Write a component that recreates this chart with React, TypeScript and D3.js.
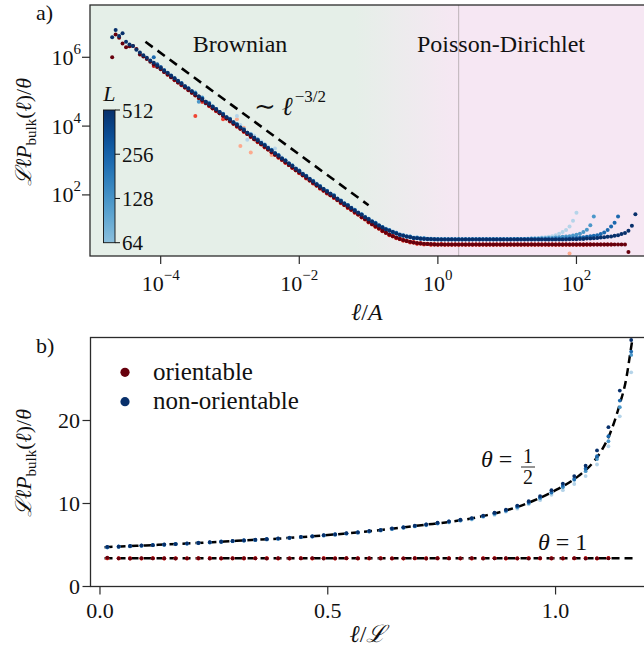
import React from 'react';
import * as d3 from 'd3';

const SERIF = "'Liberation Serif', 'DejaVu Serif', serif";

// ---------- Panel a: log-binned ℓ/A grid (log10 values) ----------
const LOG_X_GRID = [
  -4.70,-4.65,-4.60,-4.55,-4.50,-4.45,-4.40,-4.35,-4.30,-4.25,
  -4.20,-4.15,-4.10,-4.05,-4.00,-3.95,-3.90,-3.85,-3.80,-3.75,
  -3.70,-3.65,-3.60,-3.55,-3.50,-3.45,-3.40,-3.35,-3.30,-3.25,
  -3.20,-3.15,-3.10,-3.05,-3.00,-2.95,-2.90,-2.85,-2.80,-2.75,
  -2.70,-2.65,-2.60,-2.55,-2.50,-2.45,-2.40,-2.35,-2.30,-2.25,
  -2.20,-2.15,-2.10,-2.05,-2.00,-1.95,-1.90,-1.85,-1.80,-1.75,
  -1.70,-1.65,-1.60,-1.55,-1.50,-1.45,-1.40,-1.35,-1.30,-1.25,
  -1.20,-1.15,-1.10,-1.05,-1.00,-0.95,-0.90,-0.85,-0.80,-0.75,
  -0.70,-0.65,-0.60,-0.55,-0.50,-0.45,-0.40,-0.35,-0.30,-0.25,
  -0.20,-0.15,-0.10,-0.05,0.00,0.05,0.10,0.15,0.20,0.25,
  0.30,0.35,0.40,0.45,0.50,0.55,0.60,0.65,0.70,0.75,
  0.80,0.85,0.90,0.95,1.00,1.05,1.10,1.15,1.20,1.25,
  1.30,1.35,1.40,1.45,1.50,1.55,1.60,1.65,1.70,1.75,
  1.80,1.85,1.90,1.95,2.00,2.05,2.10,2.15,2.20,2.25,
  2.30,2.35,2.40,2.45,2.50,2.55,2.60,2.65,2.70,2.75,
  2.80,2.85,
];

const L_VALUES = [64, 128, 256, 512];

// log10(ℒℓP/θ), orientable, first bin = start
const A_RED_64_START = -2.90;
const A_RED_64 = [
  4.20,3.42,3.95,3.78,
  3.23,3.62,3.54,3.46,3.40,3.32,3.16,3.17,3.09,3.01,
  2.94,2.86,2.79,2.71,2.64,2.56,2.49,2.41,2.34,2.26,
  2.19,2.12,2.05,1.98,1.92,1.84,1.77,1.70,1.63,1.56,
  1.49,1.42,1.35,1.28,1.21,1.14,1.08,1.01,0.95,0.89,
  0.84,0.79,0.75,0.71,0.68,0.65,0.63,0.61,0.59,0.58,
  0.57,0.57,0.56,0.56,0.56,0.56,0.56,0.56,0.56,0.56,
  0.56,0.56,0.56,0.56,0.56,0.56,0.56,0.56,0.56,0.56,
  0.56,0.56,0.56,0.56,0.56,0.56,0.56,0.56,0.56,0.56,
  0.56,0.56,0.56,0.56,0.56,0.56,0.56,0.56,0.56,0.56,
  0.56,0.56,0.30,
];
const A_RED_128_START = -3.50;
const A_RED_128 = [
  4.29,4.86,4.70,4.69,4.58,4.51,
  4.43,4.38,4.20,4.23,4.13,4.08,3.98,3.93,3.83,3.78,
  3.68,3.63,3.53,3.48,3.38,3.33,3.23,3.18,3.08,3.03,
  2.93,2.88,2.78,2.73,2.63,2.58,2.48,2.43,2.33,2.28,
  2.18,2.14,2.04,2.00,1.91,1.86,1.76,1.72,1.62,1.58,
  1.48,1.44,1.34,1.30,1.20,1.16,1.07,1.03,0.94,0.91,
  0.83,0.81,0.74,0.73,0.67,0.67,0.62,0.63,0.58,0.60,
  0.56,0.58,0.55,0.57,0.55,0.57,0.55,0.56,0.55,0.56,
  0.55,0.56,0.55,0.56,0.55,0.56,0.55,0.56,0.55,0.56,
  0.55,0.56,0.55,0.56,0.55,0.56,0.55,0.56,0.55,0.56,
  0.55,0.56,0.55,0.56,0.55,0.56,0.55,0.56,0.55,0.56,
  0.55,0.56,0.55,0.56,0.55,0.56,0.55,0.56,0.56,
];
const A_RED_256_START = -4.10;
const A_RED_256 = [
  5.75,5.78,5.70,5.57,5.49,5.42,5.33,5.27,
  5.19,5.12,5.04,4.97,4.89,4.82,4.74,4.67,4.59,4.52,
  4.44,4.37,4.29,4.22,4.14,4.07,3.99,3.92,3.84,3.77,
  3.69,3.62,3.54,3.47,3.39,3.32,3.24,3.17,3.09,3.02,
  2.94,2.87,2.79,2.72,2.64,2.57,2.49,2.42,2.34,2.27,
  2.19,2.12,2.05,1.99,1.92,1.85,1.77,1.71,1.63,1.57,
  1.49,1.43,1.35,1.29,1.21,1.15,1.08,1.02,0.95,0.90,
  0.84,0.80,0.75,0.72,0.68,0.66,0.63,0.62,0.59,0.59,
  0.57,0.57,0.56,0.56,0.56,0.56,0.56,0.56,0.56,0.56,
  0.56,0.56,0.56,0.56,0.56,0.56,0.56,0.56,0.56,0.56,
  0.56,0.56,0.56,0.56,0.56,0.56,0.56,0.56,0.56,0.56,
  0.56,0.56,0.56,0.56,0.56,0.56,0.56,0.56,0.56,0.56,
  0.56,0.56,0.56,0.56,0.56,0.56,0.56,0.56,0.56,0.56,
  0.56,0.56,0.56,0.56,0.56,
];
const A_RED_512_START = -4.70;
const A_RED_512 = [
  6.00,6.66,6.57,6.40,6.29,6.32,6.33,6.24,6.08,6.02,
  5.95,5.87,5.80,5.72,5.65,5.57,5.50,5.42,5.35,5.27,
  5.20,5.12,5.05,4.97,4.90,4.82,4.75,4.67,4.60,4.52,
  4.45,4.37,4.30,4.22,4.15,4.07,4.00,3.92,3.85,3.77,
  3.70,3.62,3.55,3.47,3.40,3.32,3.25,3.17,3.10,3.02,
  2.95,2.87,2.80,2.72,2.65,2.57,2.50,2.42,2.35,2.27,
  2.20,2.13,2.06,1.99,1.93,1.85,1.78,1.71,1.64,1.57,
  1.50,1.43,1.36,1.29,1.22,1.15,1.09,1.02,0.96,0.90,
  0.85,0.80,0.76,0.72,0.69,0.66,0.64,0.62,0.60,0.59,
  0.58,0.57,0.57,0.56,0.56,0.56,0.56,0.56,0.56,0.56,
  0.56,0.56,0.56,0.56,0.56,0.56,0.56,0.56,0.56,0.56,
  0.56,0.56,0.56,0.56,0.56,0.56,0.56,0.56,0.56,0.56,
  0.56,0.56,0.56,0.56,0.56,0.56,0.56,0.56,0.56,0.56,
  0.56,0.56,0.56,0.56,0.56,0.56,0.56,0.56,0.56,0.56,
  0.56,0.56,0.56,0.56,0.56,0.56,0.56,0.56,0.56,0.34,
];

// non-orientable
const A_BLUE_64_START = -2.90;
const A_BLUE_64 = [
  4.29,4.03,3.84,3.60,
  3.78,3.72,3.62,3.55,3.48,3.40,3.31,3.35,3.17,3.09,
  3.00,2.93,2.85,2.78,2.70,2.63,2.55,2.48,2.40,2.33,
  2.25,2.18,2.11,2.05,1.98,1.91,1.84,1.77,1.71,1.64,
  1.57,1.50,1.44,1.37,1.31,1.25,1.19,1.13,1.07,1.02,
  0.98,0.94,0.90,0.86,0.83,0.81,0.79,0.77,0.76,0.75,
  0.74,0.73,0.73,0.72,0.72,0.72,0.72,0.72,0.72,0.72,
  0.72,0.72,0.72,0.72,0.72,0.72,0.72,0.72,0.72,0.72,
  0.72,0.72,0.72,0.72,0.72,0.72,0.72,0.72,0.72,0.72,
  0.73,0.73,0.74,0.75,0.76,0.77,0.78,0.80,0.83,0.87,
  0.92,0.98,1.08,1.25,1.48,
];
const A_BLUE_128_START = -3.50;
const A_BLUE_128 = [
  4.98,4.71,4.83,4.66,4.68,4.58,
  4.50,4.40,4.36,4.25,4.21,4.10,4.06,3.95,3.91,3.80,
  3.76,3.65,3.61,3.50,3.46,3.35,3.31,3.20,3.16,3.05,
  3.01,2.90,2.86,2.75,2.71,2.60,2.56,2.45,2.41,2.30,
  2.26,2.16,2.12,2.02,1.99,1.88,1.84,1.74,1.71,1.61,
  1.57,1.47,1.44,1.34,1.31,1.22,1.19,1.10,1.07,0.99,
  0.98,0.91,0.90,0.83,0.83,0.78,0.79,0.74,0.76,0.72,
  0.74,0.71,0.72,0.70,0.72,0.70,0.71,0.70,0.71,0.70,
  0.71,0.70,0.71,0.70,0.71,0.71,0.71,0.71,0.71,0.71,
  0.71,0.71,0.71,0.71,0.71,0.71,0.72,0.72,0.72,0.72,
  0.72,0.73,0.73,0.73,0.74,0.74,0.75,0.75,0.76,0.77,
  0.78,0.79,0.80,0.82,0.84,0.87,0.92,0.99,1.12,1.37,
];
const A_BLUE_256_START = -4.10;
const A_BLUE_256 = [
  6.00,5.80,5.72,5.63,5.55,5.47,5.39,5.32,
  5.25,5.16,5.10,5.01,4.95,4.86,4.80,4.71,4.65,4.56,
  4.50,4.41,4.35,4.26,4.20,4.11,4.05,3.96,3.90,3.81,
  3.75,3.66,3.60,3.51,3.45,3.36,3.30,3.21,3.15,3.06,
  3.00,2.91,2.85,2.76,2.70,2.61,2.55,2.46,2.40,2.31,
  2.25,2.17,2.11,2.03,1.98,1.89,1.83,1.75,1.70,1.62,
  1.56,1.48,1.43,1.35,1.30,1.23,1.18,1.11,1.06,1.00,
  0.97,0.92,0.89,0.84,0.82,0.79,0.78,0.75,0.75,0.73,
  0.73,0.72,0.72,0.71,0.71,0.71,0.71,0.71,0.71,0.71,
  0.71,0.71,0.71,0.71,0.71,0.71,0.71,0.71,0.71,0.71,
  0.71,0.71,0.71,0.71,0.71,0.71,0.71,0.71,0.71,0.71,
  0.71,0.71,0.71,0.71,0.71,0.71,0.71,0.71,0.72,0.72,
  0.72,0.73,0.73,0.74,0.75,0.76,0.77,0.78,0.80,0.81,
  0.83,0.86,0.91,0.98,1.08,1.19,1.37,
];
const A_BLUE_512_START = -4.70;
const A_BLUE_512 = [
  6.58,6.79,6.62,6.70,6.45,6.37,6.33,6.22,6.14,6.06,
  5.99,5.91,5.84,5.76,5.69,5.61,5.54,5.46,5.39,5.31,
  5.24,5.16,5.09,5.01,4.94,4.86,4.79,4.71,4.64,4.56,
  4.49,4.41,4.34,4.26,4.19,4.11,4.04,3.96,3.89,3.81,
  3.74,3.66,3.59,3.51,3.44,3.36,3.29,3.21,3.14,3.06,
  2.99,2.91,2.84,2.76,2.69,2.61,2.54,2.46,2.39,2.31,
  2.24,2.17,2.10,2.03,1.97,1.89,1.82,1.75,1.69,1.62,
  1.55,1.48,1.42,1.35,1.29,1.23,1.17,1.11,1.05,1.00,
  0.96,0.92,0.88,0.84,0.81,0.79,0.77,0.75,0.74,0.73,
  0.72,0.72,0.71,0.71,0.70,0.70,0.70,0.70,0.70,0.70,
  0.70,0.70,0.70,0.70,0.70,0.70,0.70,0.70,0.70,0.70,
  0.70,0.70,0.70,0.70,0.70,0.70,0.70,0.70,0.70,0.70,
  0.70,0.70,0.70,0.70,0.70,0.70,0.70,0.70,0.70,0.70,
  0.70,0.70,0.71,0.71,0.71,0.72,0.72,0.73,0.73,0.74,
  0.75,0.76,0.77,0.78,0.79,0.81,0.83,0.86,0.89,0.96,
  1.10,1.44,
];

// ℓ^{-3/2} guide (log10 x, log10 y)
const A_GUIDE_LOGX = [-4.22, -1.00];
const A_GUIDE_LOGY = [6.45, 1.70];

// ---------- Panel b ----------
const B_X = [
  0.016,0.041,0.066,0.091,0.116,0.141,0.166,0.191,0.216,0.241,
  0.266,0.291,0.316,0.341,0.366,0.391,0.416,0.441,0.466,0.491,
  0.516,0.541,0.566,0.591,0.616,0.641,0.666,0.691,0.716,0.741,
  0.766,0.791,0.816,0.841,0.866,0.891,0.916,0.941,0.966,0.991,
  1.016,1.041,1.066,1.091,1.116,1.141,1.166,
];
const B_BLUE_512 = [4.78,4.80,4.88,4.95,4.98,5.07,5.11,5.20,5.24,5.35,5.39,5.49,5.55,5.64,5.70,5.80,5.86,5.98,6.05,6.19,6.27,6.43,6.53,6.69,6.80,7.01,7.13,7.33,7.47,7.69,7.84,8.05,8.24,8.55,8.90,9.26,9.75,10.27,10.90,11.60,12.40,13.30,14.55,16.40,19.20,23.60,29.70];
const B_BLUE_256 = [4.73,4.83,4.85,4.93,5.01,5.03,5.14,5.17,5.27,5.31,5.42,5.46,5.57,5.61,5.72,5.76,5.88,5.95,6.08,6.15,6.30,6.39,6.55,6.64,6.82,6.96,7.15,7.28,7.48,7.63,7.83,7.98,8.21,8.47,8.84,9.15,9.65,10.10,10.75,11.35,12.15,12.95,14.20,15.70,18.10,22.40,28.30];
const B_BLUE_128 = [4.72,4.79,4.86,4.91,4.98,5.04,5.10,5.17,5.23,5.31,5.37,5.46,5.52,5.61,5.67,5.76,5.83,5.95,6.02,6.15,6.24,6.38,6.49,6.63,6.76,6.95,7.08,7.27,7.41,7.62,7.76,7.97,8.14,8.45,8.75,9.14,9.55,10.08,10.62,11.30,11.95,12.85,13.90,15.35,17.50,21.60,27.90];
const B_BLUE_64 = [4.70,4.77,4.84,4.89,4.96,5.02,5.08,5.15,5.21,5.28,5.35,5.43,5.50,5.58,5.64,5.73,5.80,5.92,5.99,6.12,6.20,6.35,6.45,6.59,6.72,6.90,7.04,7.22,7.36,7.56,7.70,7.90,8.06,8.36,8.62,9.02,9.38,9.90,10.40,11.05,11.60,12.35,13.30,14.70,16.90,20.50,25.80];
const B_RED_512 = [3.49,3.40,3.37,3.42,3.38,3.41,3.36,3.40,3.43,3.37,3.40,3.38,3.42,3.39,3.36,3.41,3.40,3.38,3.43,3.37,3.40,3.41,3.38,3.42,3.36,3.40,3.39,3.43,3.37,3.41,3.38,3.40,3.42,3.37,3.39,3.41,3.40,3.36,3.42,3.38,3.40,3.41,3.37,3.40,3.39];
const B_RED_256 = [3.42,3.38,3.41,3.36,3.40,3.37,3.42,3.39,3.36,3.41,3.38,3.42,3.37,3.40,3.43,3.38,3.36,3.41,3.39,3.42,3.37,3.39,3.41,3.38,3.43,3.37,3.40,3.38,3.42,3.36,3.41,3.39,3.37,3.42,3.40,3.38,3.36,3.41,3.39,3.42,3.37,3.40,3.43,3.38,3.41];
const B_RED_128 = [3.38,3.42,3.36,3.40,3.43,3.38,3.40,3.36,3.41,3.43,3.37,3.40,3.39,3.42,3.38,3.36,3.42,3.40,3.37,3.41,3.43,3.38,3.36,3.40,3.42,3.39,3.37,3.41,3.38,3.43,3.40,3.36,3.41,3.39,3.42,3.37,3.40,3.43,3.38,3.36,3.41,3.39,3.42,3.40,3.44];
const B_RED_64 = [3.40,3.36,3.43,3.38,3.41,3.39,3.37,3.42,3.40,3.38,3.43,3.36,3.41,3.38,3.42,3.40,3.37,3.43,3.38,3.40,3.36,3.42,3.40,3.37,3.41,3.43,3.38,3.40,3.36,3.42,3.39,3.41,3.37,3.40,3.43,3.38,3.41,3.39,3.36,3.42,3.40,3.38,3.41,3.37,3.45];

// theory curves
const THETA1_X = [0.01, 1.17];
const THETA1_Y = [3.40, 3.40];
const THETA_HALF_X = [0.01,0.1,0.2,0.3,0.4,0.5,0.6,0.7,0.8,0.85,0.9,0.95,1.0,1.05,1.08,1.10,1.12,1.14,1.155,1.165,1.172];
const THETA_HALF_Y = [4.74,4.95,5.2,5.5,5.8,6.2,6.7,7.35,8.05,8.6,9.3,10.3,11.6,13.3,14.8,16.3,18.5,21.8,25.0,28.5,31.0];

const A_X_TICKS = [-4, -2, 0, 2];
const A_Y_TICKS = [2, 4, 6];
const B_X_TICKS = [0, 0.5, 1.0];
const B_Y_TICKS = [0, 10, 20];

const tBlue = (L: number) => [0.3, 0.6, 0.78, 1.0][L_VALUES.indexOf(L)];
const blueOf = (L: number) => d3.interpolateBlues(tBlue(L));
const redOf = (L: number) => d3.interpolateReds(tBlue(L));

const sup = (n: number) => (n < 0 ? '\u2212' + Math.abs(n) : String(n));

export default function App() {
  const W = 644, H = 660;
  // panel a
  const aL = 90, aR = 645, aT = 5, aB = 256;
  const xA = d3.scaleLog().domain([Math.pow(10, -5.02), Math.pow(10, 2.989)]).range([aL, aR]);
  const yA = d3.scaleLog().domain([Math.pow(10, 0.224), Math.pow(10, 7.52)]).range([aB, aT]);
  // panel b
  const bL = 90.5, bR = 645, bT = 337.5, bB = 586.5;
  const xB = d3.scaleLinear().domain([-0.0208, 1.1963]).range([bL, bR]);
  const yB = d3.scaleLinear().domain([0, 30]).range([bB, bT]);

  const gridIdx = (s: number) => LOG_X_GRID.findIndex((v) => Math.abs(v - s) < 1e-6);
  const mk = (start: number, vals: number[], color: string) => {
    const i0 = gridIdx(start);
    return vals.map((v, i) => ({ x: xA(Math.pow(10, LOG_X_GRID[i0 + i])), y: yA(Math.pow(10, v)), color }));
  };
  const aSeries = [
    mk(A_RED_64_START, A_RED_64, redOf(64)),
    mk(A_BLUE_64_START, A_BLUE_64, blueOf(64)),
    mk(A_RED_128_START, A_RED_128, redOf(128)),
    mk(A_BLUE_128_START, A_BLUE_128, blueOf(128)),
    mk(A_RED_256_START, A_RED_256, redOf(256)),
    mk(A_BLUE_256_START, A_BLUE_256, blueOf(256)),
    mk(A_RED_512_START, A_RED_512, redOf(512)),
    mk(A_BLUE_512_START, A_BLUE_512, blueOf(512)),
  ];

  const bRed: Record<number, number[]> = { 64: B_RED_64, 128: B_RED_128, 256: B_RED_256, 512: B_RED_512 };
  const bBlue: Record<number, number[]> = { 64: B_BLUE_64, 128: B_BLUE_128, 256: B_BLUE_256, 512: B_BLUE_512 };
  const bSeries: { x: number; y: number; color: string }[][] = [];
  L_VALUES.forEach((L) => {
    bSeries.push(bRed[L].map((v, i) => ({ x: xB(B_X[i]), y: yB(v), color: redOf(L) })));
    bSeries.push(bBlue[L].map((v, i) => ({ x: xB(B_X[i]), y: yB(v), color: blueOf(L) })));
  });

  const guideA = d3.line<number>()
    .x((_, i) => xA(Math.pow(10, A_GUIDE_LOGX[i])))
    .y((v) => yA(Math.pow(10, v)))(A_GUIDE_LOGY) || '';
  const lineB = (xs: number[], ys: number[]) =>
    d3.line<number>().x((_, i) => xB(xs[i])).y((v) => yB(v)).curve(d3.curveMonotoneX)(ys) || '';

  const spine = '#2b2b2b';
  const cbX = 103.5, cbW = 11.5, cbT = 110, cbB = 242.7;
  const yCb = d3.scaleLog().base(2).domain([64, 512]).range([cbB, cbT]);

  const greenStop = xA(Math.pow(10, -1.2));
  const pinkStop = xA(Math.pow(10, 0.3));

  const yLabel = (
    <>
      <tspan fontStyle="italic">ℒℓP</tspan><tspan fontSize={15} dy={5}>bulk</tspan>
      <tspan dy={-5}>(</tspan><tspan fontStyle="italic">ℓ</tspan><tspan>)/</tspan><tspan fontStyle="italic">θ</tspan>
    </>
  );

  return (
    <svg width={W} height={H} style={{ position: 'absolute', left: 0, top: 0, background: '#fff', fontFamily: SERIF }} fontFamily={SERIF}>
      <defs>
        <linearGradient id="bgA" gradientUnits="userSpaceOnUse" x1={greenStop} x2={pinkStop} y1={0} y2={0}>
          <stop offset="0" stopColor="#e5efe8" />
          <stop offset="1" stopColor="#f6e7f3" />
        </linearGradient>
        <linearGradient id="cbGrad" x1="0" x2="0" y1="1" y2="0">
          {d3.range(0, 1.0001, 0.1).map((t) => (
            <stop key={t} offset={t} stopColor={d3.interpolateBlues(0.42 + 0.58 * t)} />
          ))}
        </linearGradient>
        <clipPath id="clipA"><rect x={aL} y={aT} width={aR - aL} height={aB - aT} /></clipPath>
        <clipPath id="clipB"><rect x={bL} y={bT} width={bR - bL} height={bB - bT} /></clipPath>
      </defs>

      {/* ---------- panel a ---------- */}
      <rect x={aL} y={aT} width={aR - aL} height={aB - aT} fill="url(#bgA)" />
      <line x1={xA(Math.pow(10, 0.3))} x2={xA(Math.pow(10, 0.3))} y1={aT} y2={aB} stroke="#bdb5ba" strokeWidth={1} />
      <g clipPath="url(#clipA)">
        {aSeries.map((s, si) => (
          <g key={si}>
            {s.map((p, i) => <circle key={i} cx={p.x} cy={p.y} r={2.0} fill={p.color} />)}
          </g>
        ))}
        <path d={guideA} fill="none" stroke="#000" strokeWidth={2.6} strokeDasharray="9,6" />
      </g>
      <text x={240} y={52} fontSize={24} textAnchor="middle" fill="#111">Brownian</text>
      <text x={501} y={52} fontSize={24} textAnchor="middle" fill="#111">Poisson-Dirichlet</text>
      <text x={254} y={115} fontSize={26} fill="#111">
        <tspan>∼</tspan><tspan dx={6} fontStyle="italic">ℓ</tspan>
        <tspan dx={2} dy={-13} fontSize={17}>−3/2</tspan>
      </text>

      {/* colorbar */}
      <rect x={cbX} y={cbT} width={cbW} height={cbB - cbT} fill="url(#cbGrad)" stroke="#111" strokeWidth={0.9} />
      {L_VALUES.map((L) => (
        <g key={L}>
          <line x1={cbX + cbW} x2={cbX + cbW + 5} y1={yCb(L)} y2={yCb(L)} stroke="#111" strokeWidth={1} />
          <text x={cbX + cbW + 7} y={yCb(L) + 7.5} fontSize={21} fill="#111">{L}</text>
        </g>
      ))}
      <text x={cbX + cbW / 2} y={101} fontSize={22} fontStyle="italic" textAnchor="middle" fill="#111">L</text>

      <rect x={aL} y={aT} width={aR - aL} height={aB - aT} fill="none" stroke={spine} strokeWidth={1.3} />
      {A_X_TICKS.map((e) => (
        <g key={e}>
          <line x1={xA(Math.pow(10, e))} x2={xA(Math.pow(10, e))} y1={aB} y2={aB + 8} stroke={spine} strokeWidth={1.2} />
          <text x={xA(Math.pow(10, e))} y={291} fontSize={22} textAnchor="middle" fill="#111">
            <tspan>10</tspan><tspan dy={-11} fontSize={15}>{sup(e)}</tspan>
          </text>
        </g>
      ))}
      {A_Y_TICKS.map((e) => (
        <g key={e}>
          <line x1={aL - 8} x2={aL} y1={yA(Math.pow(10, e))} y2={yA(Math.pow(10, e))} stroke={spine} strokeWidth={1.2} />
          <text x={81} y={yA(Math.pow(10, e)) + 7.5} fontSize={22} textAnchor="end" fill="#111">
            <tspan>10</tspan><tspan dy={-11} fontSize={15}>{sup(e)}</tspan>
          </text>
        </g>
      ))}
      <text x={367} y={320} fontSize={24} textAnchor="middle" fill="#111">
        <tspan fontStyle="italic">ℓ</tspan><tspan>/</tspan><tspan fontStyle="italic">A</tspan>
      </text>
      <text transform={`translate(31,132) rotate(-90)`} fontSize={22} textAnchor="middle" fill="#111">{yLabel}</text>
      <text x={36} y={20} fontSize={22} fill="#111">a)</text>

      {/* ---------- panel b ---------- */}
      <g clipPath="url(#clipB)">
        <path d={lineB(THETA1_X, THETA1_Y)} fill="none" stroke="#000" strokeWidth={2.5} strokeDasharray="8,5" />
        <path d={lineB(THETA_HALF_X, THETA_HALF_Y)} fill="none" stroke="#000" strokeWidth={2.5} strokeDasharray="8,5" />
        {bSeries.map((s, si) => (
          <g key={si}>
            {s.map((p, i) => <circle key={i} cx={p.x} cy={p.y} r={1.9} fill={p.color} />)}
          </g>
        ))}
      </g>
      <rect x={bL} y={bT} width={bR - bL} height={bB - bT} fill="none" stroke={spine} strokeWidth={1.3} />
      {B_X_TICKS.map((v) => (
        <g key={v}>
          <line x1={xB(v)} x2={xB(v)} y1={bB} y2={bB + 8} stroke={spine} strokeWidth={1.2} />
          <text x={xB(v)} y={618} fontSize={22} textAnchor="middle" fill="#111">{v.toFixed(1)}</text>
        </g>
      ))}
      {B_Y_TICKS.map((v) => (
        <g key={v}>
          <line x1={bL - 8} x2={bL} y1={yB(v)} y2={yB(v)} stroke={spine} strokeWidth={1.2} />
          <text x={80} y={yB(v) + 7.5} fontSize={22} textAnchor="end" fill="#111">{v}</text>
        </g>
      ))}
      <text x={368} y={642} fontSize={24} textAnchor="middle" fill="#111">
        <tspan fontStyle="italic">ℓ</tspan><tspan>/</tspan><tspan fontStyle="italic">ℒ</tspan>
      </text>
      <text transform={`translate(31,463) rotate(-90)`} fontSize={22} textAnchor="middle" fill="#111">{yLabel}</text>
      <text x={36} y={353} fontSize={22} fill="#111">b)</text>

      {/* legend */}
      <circle cx={125} cy={372.3} r={4.6} fill={redOf(512)} />
      <text x={153} y={380} fontSize={25} fill="#111">orientable</text>
      <circle cx={125} cy={401.7} r={4.6} fill={blueOf(512)} />
      <text x={153} y={409} fontSize={25} fill="#111">non-orientable</text>

      {/* annotations */}
      <text x={481} y={467} fontSize={24} fill="#111">
        <tspan fontStyle="italic">θ</tspan><tspan> = </tspan>
      </text>
      <text x={528} y={463} fontSize={20} textAnchor="middle" fill="#111">1</text>
      <line x1={521} x2={535} y1={467} y2={467} stroke="#111" strokeWidth={0.9} />
      <text x={528} y={484} fontSize={20} textAnchor="middle" fill="#111">2</text>
      <text x={538} y={550} fontSize={24} fill="#111">
        <tspan fontStyle="italic">θ</tspan><tspan> = 1</tspan>
      </text>
    </svg>
  );
}
